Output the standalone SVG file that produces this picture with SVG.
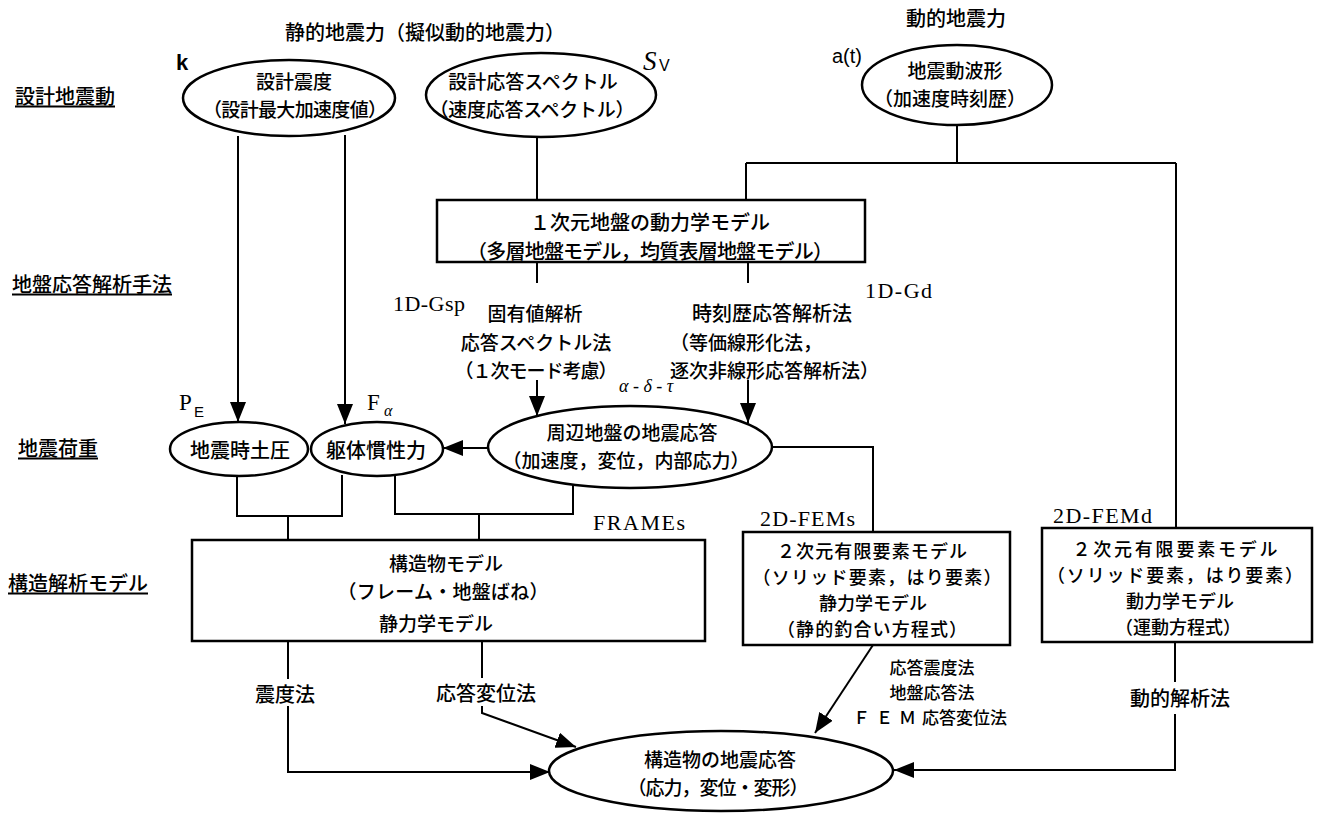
<svg xmlns="http://www.w3.org/2000/svg" width="1319" height="813" viewBox="0 0 1319 813">
<style>
.jp{font-family:"Noto Sans CJK JP","Noto Sans CJK SC",sans-serif;font-size:20px;font-weight:500;fill:#000;dominant-baseline:central;text-anchor:middle}
.jps{font-size:17px}
.jpm{font-size:19px}
.jpx{font-size:18px}
.st{text-anchor:start}
.ul{text-decoration:underline}
.lat{font-family:"Liberation Serif",serif;font-size:22px;fill:#000}
.shape{fill:#fff;stroke:#000;stroke-width:2.5}
.conn{fill:none;stroke:#000;stroke-width:2}
.arr{marker-end:url(#ah)}
</style>
<defs>
<marker id="ah" viewBox="0 0 20 16" refX="20" refY="8" markerWidth="20" markerHeight="16" markerUnits="userSpaceOnUse" orient="auto">
<path d="M0,0 L20,8 L0,16 z" fill="#000"/>
</marker>
</defs>
<rect width="1319" height="813" fill="#fff"/>

<g id="headers">
<text class="jp" x="425" y="31">静的地震力（擬似動的地震力）</text>
<text class="jp" x="956" y="17">動的地震力</text>
<text class="jp st ul" x="15" y="95">設計地震動</text>
<text class="jp st ul" x="12" y="283">地盤応答解析手法</text>
<text class="jp st ul" x="18" y="447">地震荷重</text>
<text class="jp st ul" x="8" y="582">構造解析モデル</text>
</g>

<g id="connectors">
<path class="conn arr" d="M238,136 V422"/>
<path class="conn arr" d="M345,135 V424"/>
<path class="conn" d="M537,137 V200"/>
<path class="conn" d="M957,125 V163 M746,163 H1176 M746,163 V200 M1176,163 V528"/>
<path class="conn" d="M537,262 V283"/>
<path class="conn arr" d="M537,380 V416"/>
<path class="conn" d="M748,262 V283"/>
<path class="conn arr" d="M748,380 V423"/>
<path class="conn arr" d="M488,448 H443"/>
<path class="conn" d="M237,476 V516 H342 V475 M288,516 V540"/>
<path class="conn" d="M395,475 V514 H573 V485 M479,514 V540"/>
<path class="conn" d="M772,447 H873 V532"/>
<path class="conn" d="M288,641 V679"/>
<path class="conn arr" d="M288,706 V772 H550"/>
<path class="conn" d="M482,641 V678"/>
<path class="conn arr" d="M482,706 V713 L576,747"/>
<path class="conn arr" d="M873,645 L815,733"/>
<path class="conn" d="M1175,642 V682"/>
<path class="conn arr" d="M1175,714 V770 H894"/>

<text class="jp jpm" x="535" y="312">固有値解析</text>
<text class="jp jpm" x="536" y="341">応答スペクトル法</text>
<text class="jp jpm" x="536" y="369" textLength="163">（１次モード考慮）</text>
<text class="jp" x="772" y="312">時刻歴応答解析法</text>
<text class="jp jpm st" x="670" y="341">（等価線形化法，</text>
<text class="jp jpm st" x="670" y="369">逐次非線形応答解析法）</text>
<text class="jp" x="285" y="693">震度法</text>
<text class="jp" x="486" y="692">応答変位法</text>
<text class="jp jps" x="932" y="666">応答震度法</text>
<text class="jp jps" x="932" y="691">地盤応答法</text>
<text class="jp jps st" x="853" y="716"><tspan letter-spacing="6">ＦＥＭ</tspan>応答変位法</text>
<text class="jp" x="1180" y="697">動的解析法</text>

<text x="176" y="70" style="font-family:'Liberation Sans',sans-serif;font-size:22px;font-weight:bold">k</text>
<text x="643" y="70" style="font-family:'Liberation Serif',serif;font-size:27px;font-style:italic">S</text>
<text x="659" y="71" style="font-family:'Liberation Sans',sans-serif;font-size:16px">V</text>
<text x="832" y="63" style="font-family:'Liberation Sans',sans-serif;font-size:20px">a(t)</text>
<text class="lat" x="393" y="311" textLength="72">1D-Gsp</text>
<text class="lat" x="865" y="298" textLength="67">1D-Gd</text>
<text x="619" y="392" style="font-family:'Liberation Serif',serif;font-size:18px;font-style:italic">α - δ - τ</text>
<text x="179" y="410" style="font-family:'Liberation Serif',serif;font-size:23px">P</text>
<text x="194" y="417" style="font-family:'Liberation Sans',sans-serif;font-size:15px">E</text>
<text x="367" y="410" style="font-family:'Liberation Serif',serif;font-size:23px">F</text>
<text x="384" y="416" style="font-family:'Liberation Serif',serif;font-size:16px;font-style:italic">α</text>
<text class="lat" x="593" y="530" textLength="92">FRAMEs</text>
<text class="lat" x="760" y="526" textLength="95">2D-FEMs</text>
<text class="lat" x="1053" y="523" textLength="99">2D-FEMd</text>
</g>

<g id="n-shindo">
<ellipse class="shape" cx="289" cy="98" rx="106" ry="38"/>
<text class="jp jpm" x="294" y="80">設計震度</text>
<text class="jp jpm" x="295" y="108" textLength="184">（設計最大加速度値）</text>
</g>

<g id="n-spectrum">
<ellipse class="shape" cx="541" cy="95" rx="115" ry="42"/>
<text class="jp jpm" x="533" y="80">設計応答スペクトル</text>
<text class="jp jpm" x="532" y="108" textLength="205">（速度応答スペクトル）</text>
</g>

<g id="n-wave">
<ellipse class="shape" cx="957" cy="85" rx="95" ry="40"/>
<text class="jp jpm" x="955" y="69">地震動波形</text>
<text class="jp jpm" x="950" y="97">（加速度時刻歴）</text>
</g>

<g id="n-1d-model">
<rect class="shape" x="437" y="200" width="428" height="62"/>
<text class="jp" x="650" y="221">１次元地盤の動力学モデル</text>
<text class="jp" x="650" y="250" textLength="366">（多層地盤モデル，均質表層地盤モデル）</text>
</g>

<g id="n-earth-pressure">
<ellipse class="shape" cx="239" cy="449" rx="69" ry="27"/>
<text class="jp" x="240" y="449">地震時土圧</text>
</g>

<g id="n-inertia">
<ellipse class="shape" cx="377" cy="449" rx="66" ry="27"/>
<text class="jp" x="376" y="449">躯体慣性力</text>
</g>

<g id="n-ground-response">
<ellipse class="shape" cx="630" cy="447" rx="142" ry="41"/>
<text class="jp jpm" x="632" y="431">周辺地盤の地震応答</text>
<text class="jp jpm" x="626" y="459">（加速度，変位，内部応力）</text>
</g>

<g id="n-frame">
<rect class="shape" x="192" y="540" width="513" height="101"/>
<text class="jp jpm" x="446" y="562">構造物モデル</text>
<text class="jp jpm" x="443" y="590" textLength="211">（フレーム・地盤ばね）</text>
<text class="jp jpm" x="436" y="622">静力学モデル</text>
</g>

<g id="n-fem-static">
<rect class="shape" x="743" y="532" width="267" height="113"/>
<text class="jp jpx" x="872" y="550" textLength="190">２次元有限要素モデル</text>
<text class="jp jpx" x="877" y="576" textLength="249">（ソリッド要素，はり要素）</text>
<text class="jp jpx" x="873" y="602">静力学モデル</text>
<text class="jp jpx" x="872" y="628" textLength="190">（静的釣合い方程式）</text>
</g>

<g id="n-fem-dynamic">
<rect class="shape" x="1042" y="528" width="270" height="114"/>
<text class="jp jpx" x="1175" y="548" textLength="205">２次元有限要素モデル</text>
<text class="jp jpx" x="1175" y="574" textLength="256">（ソリッド要素，はり要素）</text>
<text class="jp jpx" x="1180" y="600">動力学モデル</text>
<text class="jp jpx" x="1178" y="626">（運動方程式）</text>
</g>

<g id="n-result">
<ellipse class="shape" cx="721" cy="771" rx="172" ry="40"/>
<text class="jp jpm" x="720" y="758">構造物の地震応答</text>
<text class="jp jpm" x="718" y="786" textLength="181">（応力，変位・変形）</text>
</g>
</svg>
